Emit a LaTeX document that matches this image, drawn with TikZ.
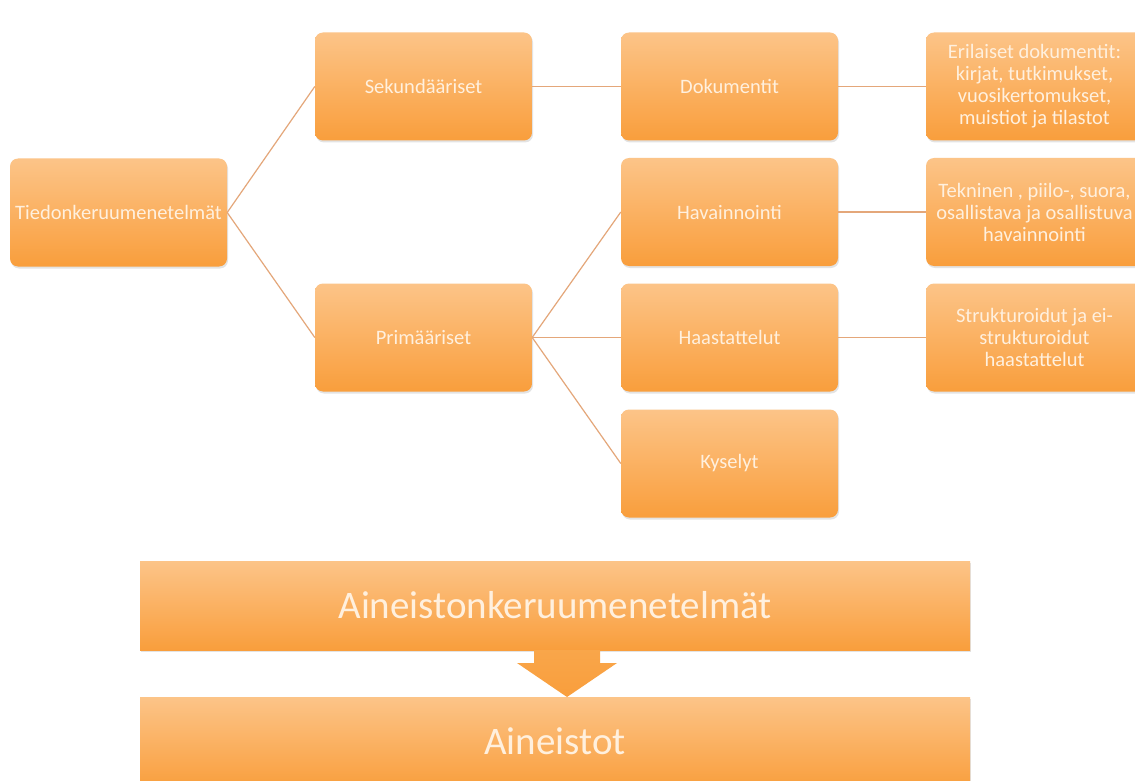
\documentclass[tikz,border=0pt]{standalone}
\usepackage{fontspec}
\setmainfont{Carlito}
\usetikzlibrary{shadows}
\definecolor{otop}{HTML}{FCC488}
\definecolor{obot}{HTML}{F99E3C}
\definecolor{oarrow}{HTML}{F9A64A}
\definecolor{oline}{HTML}{E4A77A}
\definecolor{otext}{HTML}{FFF0DE}
\tikzset{
  box/.style={rounded corners=8pt, top color=otop, bottom color=obot,
    minimum width=217pt, minimum height=108pt, text=otext, align=center,
    inner sep=2pt, font=\fontsize{20.5}{22}\selectfont,
    drop shadow={shadow xshift=1pt, shadow yshift=-2pt, opacity=0.22}},
  bar/.style={top color=otop, bottom color=obot, minimum width=830pt,
    text=otext, inner sep=0pt, font=\fontsize{39}{44}\selectfont,
    drop shadow={shadow xshift=1pt, shadow yshift=-2pt, opacity=0.22}},
  link/.style={draw=oline, line width=1.2pt}
}
\begin{document}
\begin{tikzpicture}[x=1pt,y=-1pt]
\useasboundingbox (0,0) rectangle (1135,781);
\fill[white] (0,0) rectangle (1135,781);
\node[box] (tied) at (118.5,212.5) {Tiedonkeruumenetelmät};
\node[box] (sek) at (423.5,86.5) {Sekundääriset};
\node[box] (prim) at (423.5,337.5) {Primääriset};
\node[box] (dok) at (729.5,86.5) {Dokumentit};
\node[box] (hav) at (729.5,212) {Havainnointi};
\node[box] (haas) at (729.5,337.5) {Haastattelut};
\node[box] (kys) at (729.5,463.5) {Kyselyt};
\node[box] (eril) at (1034.5,86.5) {Erilaiset dokumentit:\\kirjat, tutkimukset,\\vuosikertomukset,\\muistiot ja tilastot};
\node[box] (tekn) at (1034.5,212) {Tekninen , piilo-, suora,\\osallistava ja osallistuva\\havainnointi};
\node[box] (strk) at (1034.5,337.5) {Strukturoidut ja ei-\\strukturoidut\\haastattelut};
\draw[link] (tied.east) -- (sek.west);
\draw[link] (tied.east) -- (prim.west);
\draw[link] (sek.east) -- (dok.west);
\draw[link] (dok.east) -- (eril.west);
\draw[link] (prim.east) -- (hav.west);
\draw[link] (prim.east) -- (haas.west);
\draw[link] (prim.east) -- (kys.west);
\draw[link] (hav.east) -- (tekn.west);
\draw[link] (haas.east) -- (strk.west);
% bottom bars
\node[bar, minimum height=89pt] (ake) at (555,605.5) {Aineistonkeruumenetelmät};
\node[bar, minimum height=92pt] (ain) at (555,743) {\raisebox{4pt}{Aineistot}};
\path[top color=oarrow, bottom color=obot]
  (534,650) -- (600,650) -- (600,663) -- (617,663) -- (567,697) -- (517,663) -- (534,663) -- cycle;
\end{tikzpicture}
\end{document}
